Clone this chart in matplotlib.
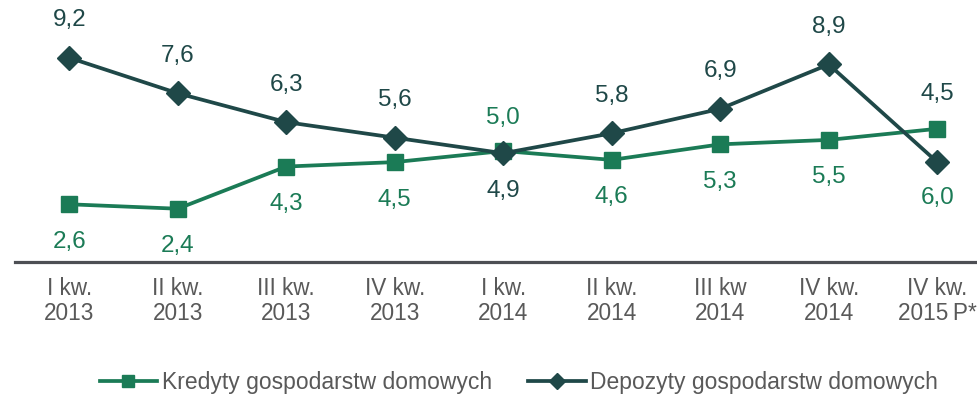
import matplotlib.pyplot as plt

plt.rcParams['font.family'] = ['Liberation Sans', 'DejaVu Sans']

categories = ["I kw.\n2013", "II kw.\n2013", "III kw.\n2013", "IV kw.\n2013",
              "I kw.\n2014", "II kw.\n2014", "III kw\n2014", "IV kw.\n2014",
              "IV kw.\n2015\u2009P*"]
kredyty = [2.6, 2.4, 4.3, 4.5, 5.0, 4.6, 5.3, 5.5, 6.0]
depozyty = [9.2, 7.6, 6.3, 5.6, 4.9, 5.8, 6.9, 8.9, 4.5]

series_names = ["Kredyty gospodarstw domowych", "Depozyty gospodarstw domowych"]

GREEN = "#1b7b56"
DARK = "#1f4848"
GREY = "#595959"

fig = plt.figure(figsize=(9.77, 3.98), dpi=100)
ax = fig.add_axes([15 / 977, 136 / 398, 976.5 / 977, 222 / 398])

x = list(range(len(categories)))
ax.plot(x, kredyty, color=GREEN, lw=2.7, marker="s", ms=12, label=series_names[0],
        solid_joinstyle="miter", zorder=3)
ax.plot(x, depozyty, color=DARK, lw=2.7, marker="D", ms=12, label=series_names[1],
        solid_joinstyle="miter", zorder=4)

ax.set_xlim(-0.5, 8.5)
ax.set_ylim(0, 10)

# label offsets in points (positive = above the marker)
kred_off = [-27, -27, -27, -27, 24, -27, -27, -27, -50]
depo_off = [27, 27, 27, 27, -27, 27, 27, 27, 49]

for xi, v, off in zip(x, kredyty, kred_off):
    ax.annotate(f"{v:.1f}".replace(".", ","), (xi, v), xytext=(0, off),
                textcoords="offset points", ha="center", va="center",
                fontsize=17.5, color=GREEN, annotation_clip=False)
for xi, v, off in zip(x, depozyty, depo_off):
    ax.annotate(f"{v:.1f}".replace(".", ","), (xi, v), xytext=(0, off),
                textcoords="offset points", ha="center", va="center",
                fontsize=17.5, color=DARK, annotation_clip=False)

for s in ["top", "right", "left"]:
    ax.spines[s].set_visible(False)
ax.spines["bottom"].set_color("#4d4f54")
ax.spines["bottom"].set_linewidth(2.3)
ax.set_yticks([])
ax.set_xticks(x)
ax.set_xticklabels(categories, fontsize=16.3, color=GREY, linespacing=1.12)
ax.tick_params(axis="x", length=0, pad=11)

leg = fig.legend(loc="center", bbox_to_anchor=(519 / 977, 1 - 383 / 398), ncol=2,
                 frameon=False, fontsize=16.5, handlelength=2.5, handletextpad=0.2,
                 columnspacing=1.6, markerscale=0.7)
for t in leg.get_texts():
    t.set_color(GREY)

fig.savefig("out.png", dpi=100)
